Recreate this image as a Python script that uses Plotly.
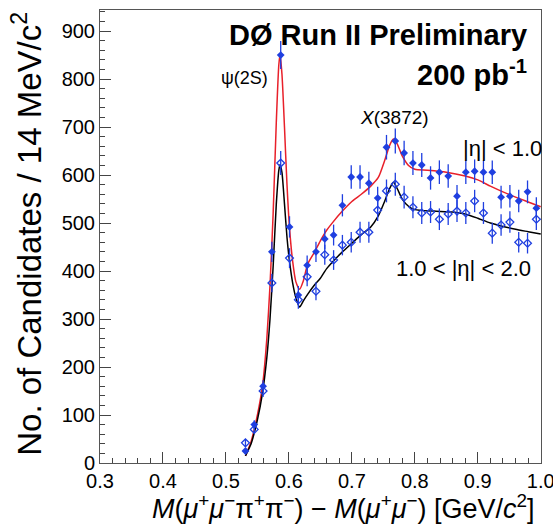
import numpy as np
import plotly.graph_objects as go

# Bin centres [GeV/c^2]
bin_centers = [0.531, 0.545, 0.559, 0.573, 0.587, 0.601, 0.615, 0.629, 0.643, 0.657,
               0.671, 0.685, 0.699, 0.713, 0.727, 0.741, 0.755, 0.769, 0.783, 0.797,
               0.811, 0.825, 0.839, 0.853, 0.867, 0.881, 0.895, 0.909, 0.923, 0.937,
               0.951, 0.965, 0.979, 0.993]

# |eta| < 1.0 (filled)
central_counts = [25, 80, 160, 440, 850, 492, 350, 412, 440, 467,
                  475, 537, 596, 596, 583, 552, 658, 671, 646, 625,
                  621, 594, 606, 598, 556, 606, 608, 606, 606, 554,
                  556, 546, 565, 531]

# 1.0 < |eta| < 2.0 (open)
forward_counts = [42, 70, 150, 375, 625, 427, 340, 388, 358, 434,
                  423, 454, 460, 481, 481, 527, 567, 581, 554, 533,
                  521, 523, 508, 519, 525, 521, 546, 521, 479, 496,
                  502, 460, 458, 508]

# Fit curves
red_fit_x = [0.531, 0.540, 0.550, 0.558, 0.565, 0.570, 0.575, 0.580, 0.584, 0.586,
             0.589, 0.593, 0.597, 0.601, 0.606, 0.611, 0.617, 0.623, 0.630, 0.640,
             0.650, 0.660, 0.670, 0.685, 0.700, 0.715, 0.730, 0.742, 0.752, 0.760,
             0.766, 0.772, 0.780, 0.790, 0.800, 0.820, 0.850, 0.880, 0.900, 0.920,
             0.940, 0.960, 0.980, 1.000]
red_fit_y = [15, 45, 100, 160, 260, 370, 520, 710, 830, 850,
             810, 700, 580, 490, 420, 378, 362, 380, 415, 438,
             463, 485, 502, 525, 545, 560, 577, 595, 630, 662,
             675, 665, 640, 620, 612, 610, 606, 598, 590, 577,
             565, 554, 544, 534]

black_fit_x = [0.531, 0.540, 0.550, 0.558, 0.565, 0.570, 0.575, 0.580, 0.584, 0.586,
               0.589, 0.593, 0.597, 0.601, 0.606, 0.611, 0.617, 0.623, 0.630, 0.640,
               0.650, 0.660, 0.670, 0.685, 0.700, 0.715, 0.730, 0.742, 0.752, 0.760,
               0.766, 0.772, 0.780, 0.790, 0.800, 0.830, 0.860, 0.880, 0.900, 0.920,
               0.940, 0.960, 0.980, 1.000]
black_fit_y = [15, 40, 90, 145, 220, 300, 410, 540, 610, 622,
               605, 540, 470, 420, 375, 345, 325, 338, 352, 370,
               385, 405, 420, 440, 458, 476, 492, 515, 545, 572,
               585, 572, 550, 535, 528, 525, 523, 519, 510, 500,
               493, 487, 482, 477]

x_ticks = [0.3, 0.4, 0.5, 0.6, 0.7, 0.8, 0.9, 1.0]
y_ticks = [0, 100, 200, 300, 400, 500, 600, 700, 800, 900]

BLUE = "#1f3fe0"
FONT = "Liberation Sans, Arial, Helvetica, sans-serif"

fig = go.Figure()

fig.add_trace(go.Scatter(x=red_fit_x, y=red_fit_y, mode="lines",
                         line=dict(color="#e8202a", width=1.5, shape="spline", smoothing=0.6),
                         hoverinfo="skip", showlegend=False))
fig.add_trace(go.Scatter(x=black_fit_x, y=black_fit_y, mode="lines",
                         line=dict(color="black", width=1.5, shape="spline", smoothing=0.6),
                         hoverinfo="skip", showlegend=False))

fig.add_trace(go.Scatter(
    x=bin_centers, y=central_counts, mode="markers",
    marker=dict(symbol="diamond", size=6, color=BLUE),
    error_y=dict(type="data", array=list(np.sqrt(central_counts)), color=BLUE, thickness=1.3, width=0),
    showlegend=False))
fig.add_trace(go.Scatter(
    x=bin_centers, y=forward_counts, mode="markers",
    marker=dict(symbol="diamond-open", size=6, color=BLUE, line=dict(width=1.3, color=BLUE)),
    error_y=dict(type="data", array=list(np.sqrt(forward_counts)), color=BLUE, thickness=1.3, width=0),
    showlegend=False))

x_title = ("<i>M</i>(<i>μ</i><sup>+</sup><i>μ</i><sup>−</sup>π<sup>+</sup>π<sup>−</sup>) − "
           "<i>M</i>(<i>μ</i><sup>+</sup><i>μ</i><sup>−</sup>) [GeV/<i>c</i><sup>2</sup>]")
y_title = "No. of Candidates / 14 MeV/c<sup>2</sup>"

anns = [
    dict(x=0.973, y=0.945, xref="paper", yref="paper", xanchor="right", yanchor="middle",
         text="<b>DØ Run II Preliminary</b>", font=dict(size=29, family=FONT, color="black")),
    dict(x=0.973, y=0.862, xref="paper", yref="paper", xanchor="right", yanchor="middle",
         text="<b>200 pb<sup>-1</sup></b>", font=dict(size=29, family=FONT, color="black")),
    dict(x=0.529, y=802, xref="x", yref="y", xanchor="center", yanchor="middle",
         text="ψ(2S)", font=dict(size=18, family=FONT, color="black")),
    dict(x=0.767, y=719, xref="x", yref="y", xanchor="center", yanchor="middle",
         text="<i>X</i>(3872)", font=dict(size=19, family=FONT, color="black")),
    dict(x=1.007, y=0.695, xref="paper", yref="paper", xanchor="right", yanchor="middle",
         text="|η| < 1.0", font=dict(size=22, family=FONT, color="black")),
    dict(x=0.988, y=406, xref="x", yref="y", xanchor="right", yanchor="middle",
         text="1.0 < |η| < 2.0", font=dict(size=22, family=FONT, color="black")),
    dict(x=0.99, y=-0.098, xref="paper", yref="paper", xanchor="right", yanchor="middle",
         text=x_title, font=dict(size=27, family=FONT, color="black")),
    dict(x=-0.166, y=1.0, xref="paper", yref="paper", xanchor="center", yanchor="top",
         textangle=-90, text=y_title, font=dict(size=33, family=FONT, color="black")),
]
for a in anns:
    a["showarrow"] = False

fig.update_layout(
    width=553, height=529,
    margin=dict(l=100, r=12, t=10, b=66),
    paper_bgcolor="white", plot_bgcolor="white",
    font=dict(family=FONT, color="black"),
    annotations=anns,
    xaxis=dict(range=[0.3, 1.0004], tickvals=x_ticks, ticktext=[f"{v:.1f}" for v in x_ticks],
               ticks="inside", ticklen=11, tickcolor="#444", tickwidth=1,
               ticklabeloverflow="allow", automargin=False,
               minor=dict(ticks="inside", ticklen=5, dtick=0.02, tick0=0.3, tickcolor="#444"),
               showline=True, linecolor="#555", linewidth=1, mirror=True, showgrid=False,
               zeroline=False, tickfont=dict(size=20, family=FONT)),
    yaxis=dict(range=[0, 944], tickvals=y_ticks, automargin=False,
               ticks="inside", ticklen=11, tickcolor="#444", tickwidth=1,
               minor=dict(ticks="inside", ticklen=5, dtick=20, tick0=0, tickcolor="#444"),
               showline=True, linecolor="#555", linewidth=1, mirror=True, showgrid=False,
               zeroline=False, tickfont=dict(size=20, family=FONT)),
)

fig.write_html("out.html")
